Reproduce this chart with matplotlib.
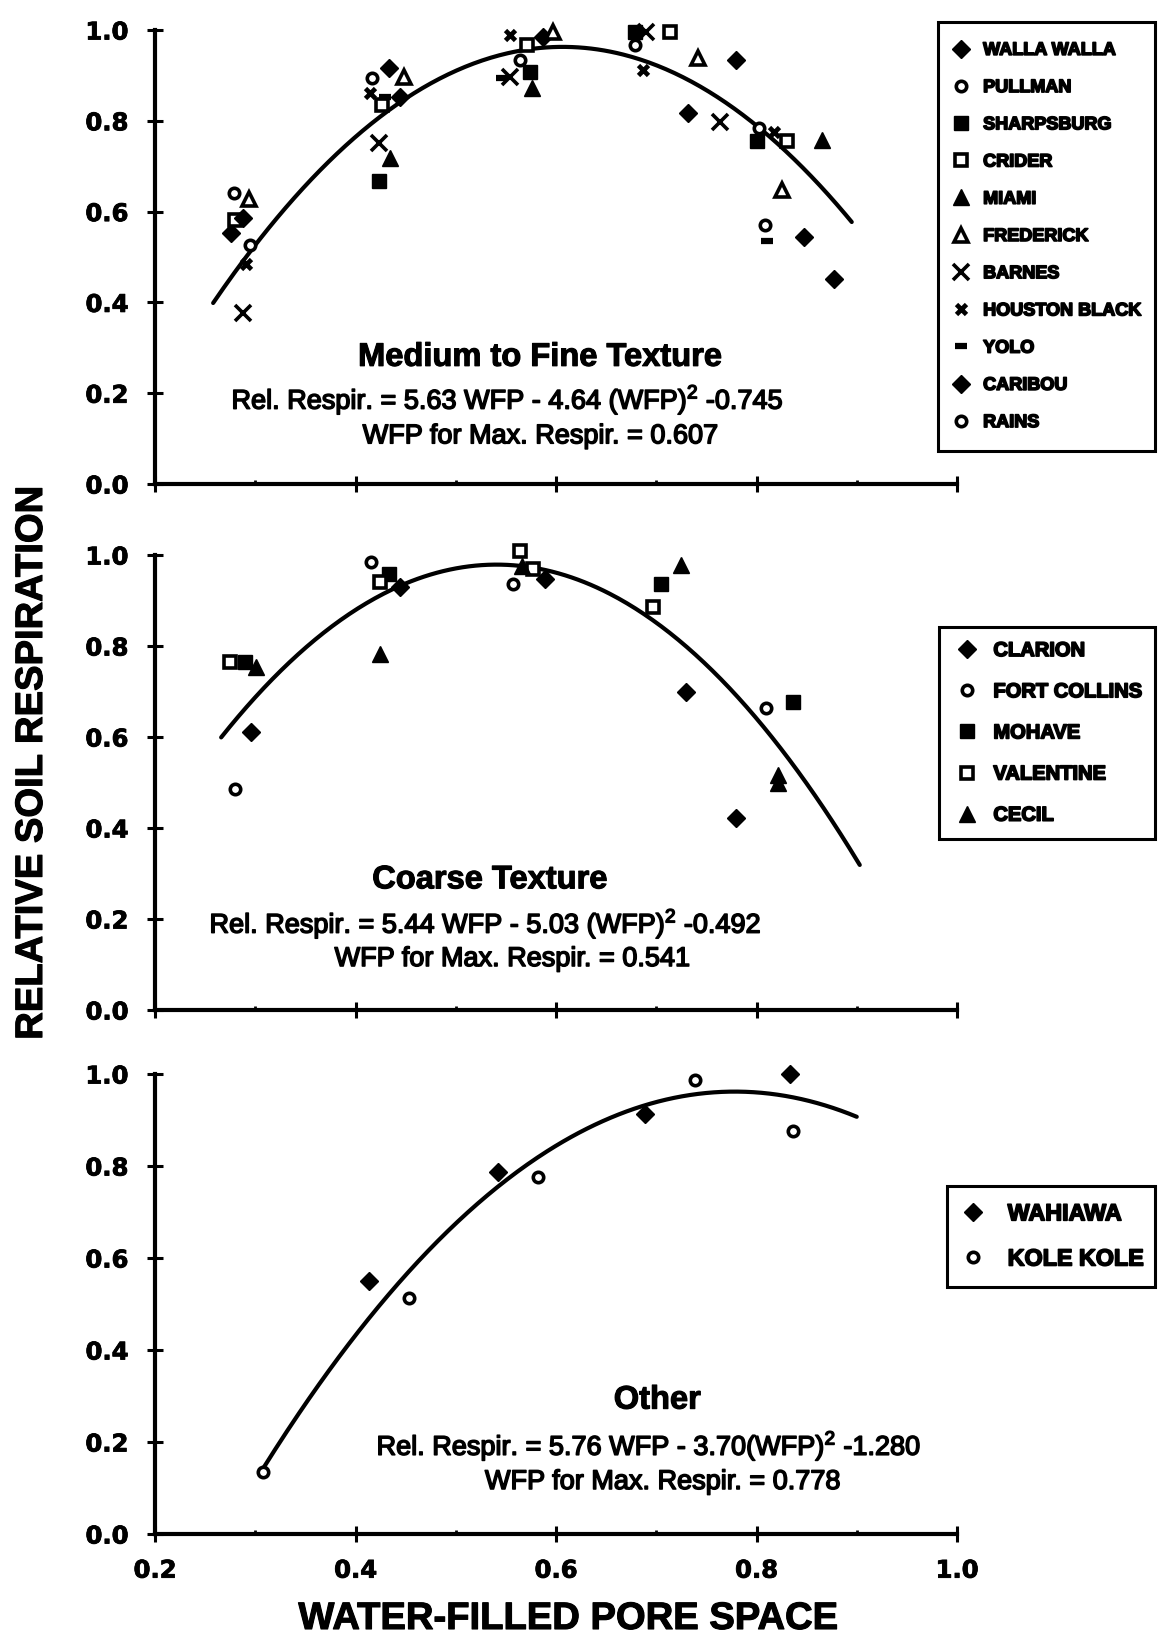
import numpy as np
import matplotlib
matplotlib.use('Agg')
import matplotlib.pyplot as plt
import matplotlib.patheffects as pe
from matplotlib.ticker import FormatStrFormatter, MultipleLocator

plt.rcParams['font.family'] = ['Liberation Sans', 'DejaVu Sans']
plt.rcParams['mathtext.fontset'] = 'custom'
plt.rcParams['mathtext.rm'] = 'Liberation Sans'

# Marker setting:  marker  size  face  edge width
diamFill  = [      'D',    9.0,  'k',   1.0 ]
circOpen  = [      'o',    7.5,  'w',   2.6 ]
sqrFill   = [      's',    9.5,  'k',   1.0 ]
sqrOpen   = [      's',    8.0,  'w',   2.6 ]
triFill   = [      '^',   11.0,  'k',   1.0 ]
triOpen   = [      '^',    9.5,  'w',   2.6 ]
crossBig  = [      'x',   11.0,  'k',   2.6 ]
crossSml  = [      'x',    7.0,  'k',   3.4 ]
dash      = [      '_',    8.5,  'k',   4.5 ]

# ---- medium to fine texture soils
wallaX   = [0.276, 0.433, 0.587, 0.780, 0.877]
wallaY   = [0.553, 0.916, 0.985, 0.934, 0.451]
pullX    = [0.279, 0.416, 0.564, 0.679, 0.802]
pullY    = [0.642, 0.894, 0.934, 0.967, 0.784]
sharpX   = [0.423, 0.574, 0.679, 0.800]
sharpY   = [0.667, 0.908, 0.996, 0.755]
criderX  = [0.280, 0.426, 0.571, 0.714, 0.830]
criderY  = [0.582, 0.835, 0.967, 0.996, 0.755]
miamiX   = [0.434, 0.576, 0.865]
miamiY   = [0.718, 0.872, 0.758]
fredX    = [0.294, 0.448, 0.597, 0.742, 0.825]
fredY    = [0.628, 0.897, 0.996, 0.938, 0.648]
barnesX  = [0.288, 0.423, 0.554, 0.690, 0.764]
barnesY  = [0.377, 0.751, 0.897, 0.996, 0.798]
houstX   = [0.291, 0.414, 0.554, 0.687, 0.817]
houstY   = [0.484, 0.861, 0.989, 0.912, 0.776]
yoloX    = [0.429, 0.546, 0.810]
yoloY    = [0.853, 0.894, 0.535]
caribX   = [0.288, 0.444, 0.732, 0.847]
caribY   = [0.586, 0.853, 0.817, 0.544]
rainsX   = [0.295, 0.808]
rainsY   = [0.527, 0.571]

# ---- coarse texture soils
clarX    = [0.296, 0.444, 0.589, 0.730, 0.780]
clarY    = [0.610, 0.929, 0.947, 0.698, 0.421]
fcolX    = [0.280, 0.415, 0.557, 0.809]
fcolY    = [0.486, 0.984, 0.936, 0.663]
mohaveX  = [0.290, 0.433, 0.705, 0.836]
mohaveY  = [0.764, 0.958, 0.936, 0.676]
valenX   = [0.275, 0.424, 0.564, 0.577, 0.697]
valenY   = [0.764, 0.940, 1.009, 0.969, 0.885]
cecilX   = [0.301, 0.424, 0.566, 0.725, 0.821, 0.821]
cecilY   = [0.753, 0.782, 0.975, 0.977, 0.517, 0.500]

# ---- other soils
wahiX    = [0.413, 0.542, 0.689, 0.833]
wahiY    = [0.549, 0.788, 0.913, 0.999]
koleX    = [0.308, 0.453, 0.582, 0.739, 0.836]
koleY    = [0.135, 0.513, 0.777, 0.988, 0.877]

# regression: Rel = a*WFP - b*WFP^2 - c, drawn over the WFP range
medCoef   = (5.63, 4.64, 0.745);  medRange   = (0.258, 0.895)
coarCoef  = (5.44, 5.03, 0.492);  coarRange  = (0.266, 0.903)
othCoef   = (5.76, 3.70, 1.280);  othRange   = (0.308, 0.900)

medTitle  = 'Medium to Fine Texture'
medEq     = r'Rel. Respir. = 5.63 WFP - 4.64 (WFP)$^{2}$ -0.745'
medMax    = 'WFP for Max. Respir. = 0.607'
coarTitle = 'Coarse Texture'
coarEq    = r'Rel. Respir. = 5.44 WFP - 5.03 (WFP)$^{2}$ -0.492'
coarMax   = 'WFP for Max. Respir. = 0.541'
othTitle  = 'Other'
othEq     = r'Rel. Respir. = 5.76 WFP - 3.70(WFP)$^{2}$ -1.280'
othMax    = 'WFP for Max. Respir. = 0.778'

W, H = 1158, 1640
fig = plt.figure(figsize=(W/100, H/100), dpi=100)
heavy = lambda w: [pe.withStroke(linewidth=w, foreground='k')]

def frame(top, bottom):
    return [155/W, 1-bottom/H, 802/W, (bottom-top)/H]

def box(x0, y0, x1, y1):
    return (x0/W, 1-y1/H, (x1-x0)/W, (y1-y0)/H)

def points(ax, x, y, st, label):
    h, = ax.plot(x, y, linestyle='none', marker=st[0], markersize=st[1],
                 markerfacecolor=st[2], markeredgecolor='k',
                 markeredgewidth=st[3], clip_on=False, label=label, zorder=4)
    return h

def Panel(ax, series, coef, xr, texts, tpos, showx=False):
    a, b, c = coef
    xx = np.linspace(xr[0], xr[1], 300)
    ax.plot(xx, a*xx - b*xx**2 - c, 'k-', lw=3.0, solid_capstyle='round', zorder=3)
    hs = [points(ax, x, y, st, lab) for x, y, st, lab in series]
    ax.set_xlim(0.2, 1.0); ax.set_ylim(0.0, 1.0)
    for s in ['top', 'right']: ax.spines[s].set_visible(False)
    for s in ['left', 'bottom']: ax.spines[s].set_linewidth(3.0)
    ax.xaxis.set_major_locator(MultipleLocator(0.2))
    ax.xaxis.set_minor_locator(MultipleLocator(0.1))
    ax.yaxis.set_major_locator(MultipleLocator(0.2))
    ax.yaxis.set_major_formatter(FormatStrFormatter('%.1f'))
    ax.xaxis.set_major_formatter(FormatStrFormatter('%.1f'))
    ax.tick_params(which='major', direction='inout', length=11.5, width=2.2,
                   pad=13.5, labelsize=17.5)
    ax.tick_params(which='minor', axis='x', direction='in', length=3, width=2.0)
    ax.tick_params(axis='x', labelbottom=showx, pad=12)
    for lab in ax.get_xticklabels() + ax.get_yticklabels():
        lab.set_fontfamily('DejaVu Sans'); lab.set_fontweight('bold')
        lab.set_path_effects(heavy(0.6))
    ax.patch.set_alpha(0)
    sizes = [23.5, 19.5, 19.5]
    weights = ['bold', 'normal', 'normal']
    strokes = [0.8, 1.1, 1.1]
    for t, p, s, w, k in zip(texts, tpos, sizes, weights, strokes):
        ax.text(p[0], p[1], t, ha='center', va='center', fontsize=s,
                fontweight=w, family='Liberation Sans', path_effects=heavy(k))
    return hs

def Legend(ax, hs, bb, size, pad, lsp, hl, htp):
    lg = ax.legend(handles=hs, loc='upper left', bbox_to_anchor=box(*bb),
                   bbox_transform=fig.transFigure, mode='expand', borderaxespad=0,
                   frameon=True, fancybox=False, edgecolor='k', framealpha=1,
                   borderpad=pad, labelspacing=lsp, handlelength=hl,
                   handletextpad=htp, numpoints=1,
                   prop=dict(family='Liberation Sans', weight='bold', size=size))
    lg.get_frame().set_linewidth(2.2)
    for t in lg.get_texts():
        t.set_path_effects(heavy(1.2))

axTop = fig.add_axes(frame(31, 485))
axMid = fig.add_axes(frame(556, 1011))
axBot = fig.add_axes(frame(1075, 1535))

hTop = Panel(axTop,
             [(wallaX, wallaY, diamFill, 'WALLA WALLA'),
              (pullX, pullY, circOpen, 'PULLMAN'),
              (sharpX, sharpY, sqrFill, 'SHARPSBURG'),
              (criderX, criderY, sqrOpen, 'CRIDER'),
              (miamiX, miamiY, triFill, 'MIAMI'),
              (fredX, fredY, triOpen, 'FREDERICK'),
              (barnesX, barnesY, crossBig, 'BARNES'),
              (houstX, houstY, crossSml, 'HOUSTON BLACK'),
              (yoloX, yoloY, dash, 'YOLO'),
              (caribX, caribY, diamFill, 'CARIBOU'),
              (rainsX, rainsY, circOpen, 'RAINS')],
             medCoef, medRange, [medTitle, medEq, medMax],
             [(0.584, 0.279), (0.552, 0.185), (0.585, 0.105)])
Legend(axTop, hTop, (938, 23, 1155, 447), 13, 1.1, 1.12, 0.4, 1.0)

hMid = Panel(axMid,
             [(clarX, clarY, diamFill, 'CLARION'),
              (fcolX, fcolY, circOpen, 'FORT COLLINS'),
              (mohaveX, mohaveY, sqrFill, 'MOHAVE'),
              (valenX, valenY, sqrOpen, 'VALENTINE'),
              (cecilX, cecilY, triFill, 'CECIL')],
             coarCoef, coarRange, [coarTitle, coarEq, coarMax],
             [(0.534, 0.286), (0.530, 0.189), (0.557, 0.112)])
Legend(axMid, hMid, (939, 628, 1155, 837), 14.5, 0.7, 1.1, 1.4, 0.6)

hBot = Panel(axBot,
             [(wahiX, wahiY, diamFill, 'WAHIAWA'),
              (koleX, koleY, circOpen, 'KOLE KOLE')],
             othCoef, othRange, [othTitle, othEq, othMax],
             [(0.701, 0.291), (0.693, 0.191), (0.707, 0.113)], showx=True)
Legend(axBot, hBot, (947, 1187, 1155, 1281), 16.8, 0.7, 0.95, 0.8, 1.1)

fig.text(32/W, 1-764/H, 'RELATIVE SOIL RESPIRATION', rotation=90, ha='center',
         va='center', fontsize=27.5, fontweight='bold', path_effects=heavy(0.8))
fig.text(568/W, 1-1620/H, 'WATER-FILLED PORE SPACE', ha='center', va='center',
         fontsize=27.5, fontweight='bold', path_effects=heavy(0.8))

fig.savefig('out.png', dpi=100, facecolor='white')
